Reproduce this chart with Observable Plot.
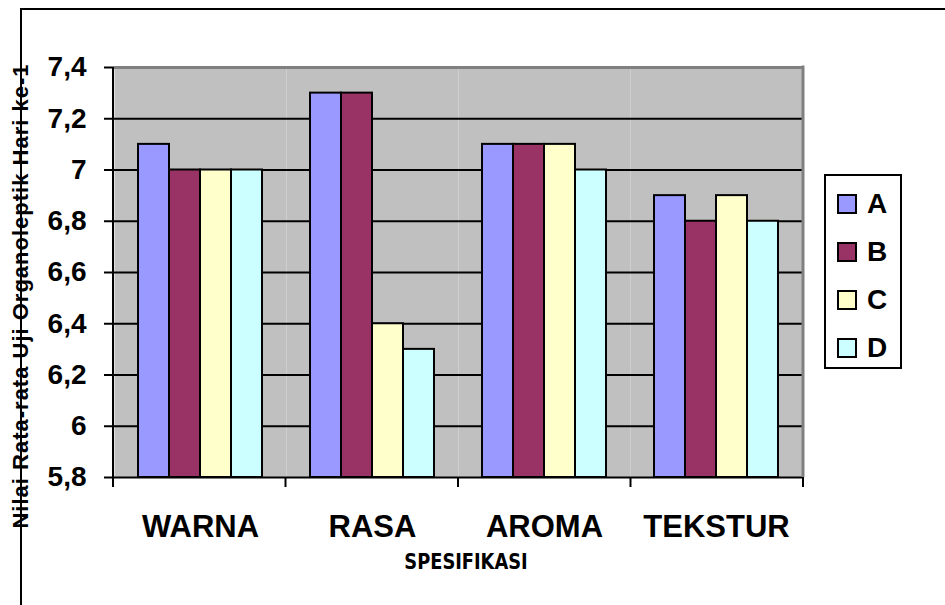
<!DOCTYPE html>
<html>
<head>
<meta charset="utf-8">
<script src="https://cdn.jsdelivr.net/npm/d3@7"></script>
<script src="https://cdn.jsdelivr.net/npm/@observablehq/plot@0.6"></script>
<style>
  html, body { margin: 0; padding: 0; background: #fff; overflow: hidden; }
  #wrap { position: relative; width: 945px; height: 605px; overflow: hidden; font-family: "Liberation Sans", Arial, sans-serif; }
  #frame { position: absolute; left: 20px; top: 8px; width: 1000px; height: 700px; border-left: 2px solid #000; border-top: 2px solid #000; }
  #chart { position: absolute; left: 0; top: 0; }
  #chart svg { font-family: "Liberation Sans", Arial, sans-serif; font-weight: bold; }
  [aria-label^="y-axis"] text { font-size: 28px; fill: #000; }
  [aria-label^="y-axis"] line, [aria-label^="y-axis"] path { stroke: #000; stroke-width: 2px; }
  [aria-label^="fx-axis"] text { font-size: 31px; fill: #000; }
  #ylabel { position: absolute; left: 21px; top: 296px; transform: translate(-50%, -50%) rotate(-90deg); white-space: nowrap; font: bold 22px "Liberation Sans", Arial, sans-serif; letter-spacing: 1px; color: #000; }
  #xlabel { position: absolute; left: 466px; top: 549px; transform: translateX(-50%) scaleX(0.9); white-space: nowrap; font: bold 22px "DejaVu Sans Condensed", "Liberation Sans Narrow", sans-serif; font-stretch: condensed; color: #000; }
  #legend { position: absolute; left: 824px; top: 174px; width: 74px; height: 191px; border: 2px solid #000; background: #fff; }
  .row { position: absolute; left: 11px; height: 30px; display: flex; align-items: center; }
  .sw { width: 16px; height: 16px; border: 2px solid #000; margin-right: 10px; }
  .lab { font: bold 28px "Liberation Sans", Arial, sans-serif; line-height: 30px; }
</style>
</head>
<body>
<div id="wrap">
  <div id="frame"></div>
  <div id="chart"></div>
  <div id="ylabel">Nilai Rata-rata Uji Organoleptik Hari ke-1</div>
  <div id="xlabel">SPESIFIKASI</div>
  <div id="legend"></div>
</div>
<script>
const categories = ["WARNA", "RASA", "AROMA", "TEKSTUR"];
const series = ["A", "B", "C", "D"];
const valuesA = [7.1, 7.3, 7.1, 6.9];
const valuesB = [7.0, 7.3, 7.1, 6.8];
const valuesC = [7.0, 6.4, 7.1, 6.9];
const valuesD = [7.0, 6.3, 7.0, 6.8];
const seriesColors = ["#9999FF", "#993366", "#FFFFCC", "#CCFFFF"];
const yTicks = [5.8, 6.0, 6.2, 6.4, 6.6, 6.8, 7.0, 7.2, 7.4];
const gridValues = [6.0, 6.2, 6.4, 6.6, 6.8, 7.0, 7.2];
const yMin = 5.8, yMax = 7.4;

const seriesValues = [valuesA, valuesB, valuesC, valuesD];
const data = categories.flatMap((c, i) =>
  series.map((s, j) => ({category: c, series: s, value: seriesValues[j][i]})));

const chart = Plot.plot({
  width: 945,
  height: 605,
  marginLeft: 113,
  marginRight: 142,
  marginTop: 67,
  marginBottom: 128,
  facet: {data: data, x: "category"},
  fx: {domain: categories, padding: 0, axis: "bottom", tickSize: 0, tickPadding: 37, label: null},
  x: {domain: series, paddingInner: 0, paddingOuter: 0.735, axis: null},
  y: {domain: [yMin, yMax], ticks: yTicks, tickSize: 10, tickPadding: 18, label: null,
      tickFormat: d => String(Math.round(d * 10) / 10).replace(".", ",")},
  color: {domain: series, range: seriesColors},
  marks: [
    Plot.frame({fill: "#C0C0C0", stroke: null}),
    Plot.ruleY(gridValues, {stroke: "#000", strokeWidth: 2}),
    Plot.ruleY([yMax], {stroke: "#808080", strokeWidth: 3}),
    Plot.barY(data, {x: "series", y1: yMin, y2: "value", fill: "series", stroke: "#000", strokeWidth: 2}),
    Plot.ruleY([yMin], {stroke: "#000", strokeWidth: 2})
  ]
});
document.getElementById("chart").appendChild(chart);

// Boundary ticks, axis line and right border drawn from the plot's own scales
const fxs = chart.scale("fx");
const ys = Plot.scale({y: chart.scale("y")});
const band = d3.scaleBand().domain(fxs.domain).range(fxs.range)
  .paddingInner(fxs.paddingInner || 0).paddingOuter(fxs.paddingOuter || 0).align(fxs.align ?? 0.5);
const svg = d3.select(chart.tagName.toLowerCase() === "svg" ? chart : chart.querySelector("svg"));
const y0 = ys.apply(yMin), y1 = ys.apply(yMax);
const left = band(categories[0]);
const right = band(categories[categories.length - 1]) + band.bandwidth();
svg.append("line").attr("x1", right).attr("x2", right).attr("y1", y1 - 1.5).attr("y2", y0)
  .attr("stroke", "#808080").attr("stroke-width", 3);
svg.append("line").attr("x1", left).attr("x2", left).attr("y1", y1).attr("y2", y0 + 1)
  .attr("stroke", "#000").attr("stroke-width", 2);
const bounds = categories.map(c => band(c)).concat([right]);
svg.selectAll("line.bt").data(bounds).join("line").attr("class", "bt")
  .attr("x1", d => d).attr("x2", d => d).attr("y1", y0).attr("y2", y0 + 10)
  .attr("stroke", "#000").attr("stroke-width", 2);

// Legend
const legend = d3.select("#legend");
series.forEach((s, i) => {
  const row = legend.append("div").attr("class", "row").style("top", (13 + i * 48) + "px");
  row.append("div").attr("class", "sw").style("background", seriesColors[i]);
  row.append("div").attr("class", "lab").text(s);
});
</script>
</body>
</html>
